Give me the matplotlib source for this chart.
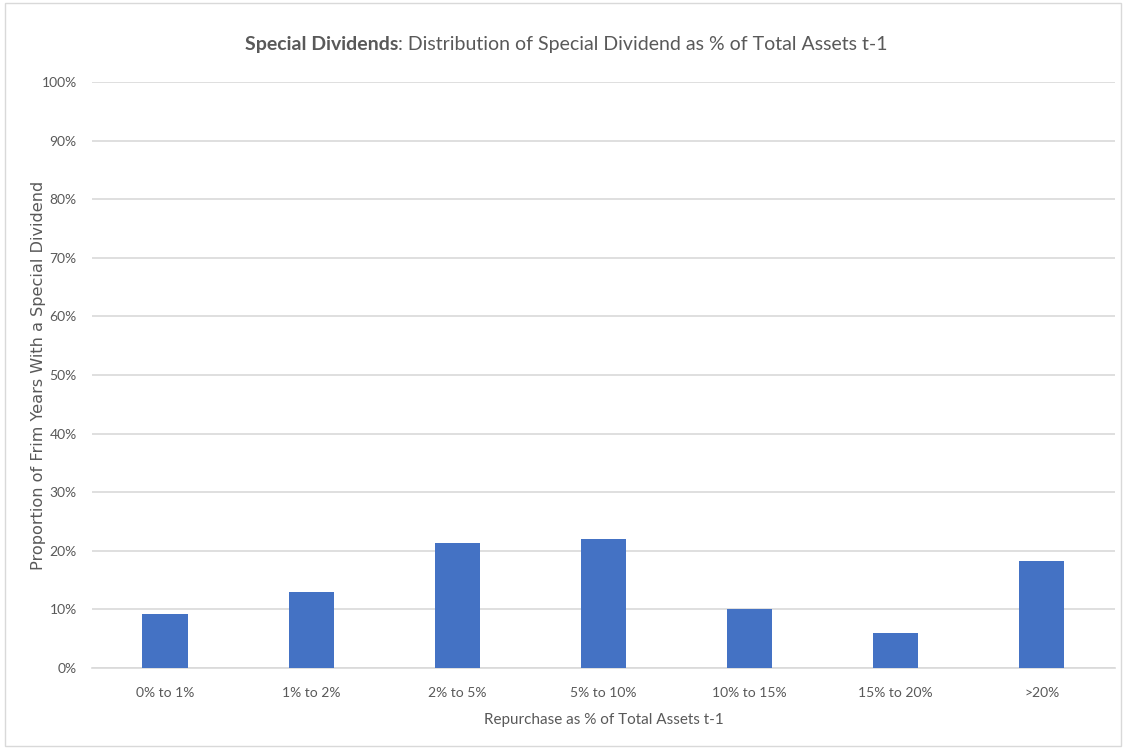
import matplotlib
matplotlib.use("Agg")
import matplotlib.pyplot as plt
from matplotlib.ticker import PercentFormatter
from matplotlib.patches import Rectangle

categories = ["0% to 1%", "1% to 2%", "2% to 5%", "5% to 10%",
              "10% to 15%", "15% to 20%", ">20%"]
share = [0.092, 0.130, 0.213, 0.220, 0.100, 0.059, 0.183]

plt.rcParams['font.family'] = ['Lato', 'DejaVu Sans']
text_color = "#595959"

fig = plt.figure(figsize=(11.25, 7.49), dpi=100)
ax = fig.add_axes([0.0818, 0.1081, 0.9092, 0.7824])

ax.bar(range(len(categories)), share, width=0.31, color="#4472C4", zorder=3)
ax.set_xlim(-0.5, len(categories) - 0.5)
ax.set_ylim(0, 1.0)
ax.set_yticks([i / 10 for i in range(11)])
ax.yaxis.set_major_formatter(PercentFormatter(1.0, decimals=0))
ax.set_xticks(range(len(categories)))
ax.set_xticklabels(categories)

ax.grid(axis="y", color="#D9D9D9", linewidth=1.2, zorder=0)
for side in ["top", "right", "left"]:
    ax.spines[side].set_visible(False)
ax.spines["bottom"].set_color("#D9D9D9")
ax.spines["bottom"].set_linewidth(1.2)
ax.tick_params(length=0, colors=text_color, labelsize=10)
ax.tick_params(axis="x", pad=14)
ax.tick_params(axis="y", pad=11)

ax.set_xlabel("Repurchase as % of Total Assets t-1", color=text_color, fontsize=11, labelpad=10)
ax.set_ylabel("Proportion of Frim Years With a Special Dividend", color=text_color,
              fontsize=11.6, family=["DejaVu Sans"])
ax.yaxis.set_label_coords(-0.045, 0.5)

# title: bold lead-in followed by regular text
renderer = fig.canvas.get_renderer()
t1 = fig.text(0, 0, "Special Dividends", fontsize=14, fontweight="bold", color=text_color)
t2 = fig.text(0, 0, ": Distribution of Special Dividend as % of Total Assets t-1",
              fontsize=14, color=text_color)
w1 = t1.get_window_extent(renderer).width / fig.bbox.width
w2 = t2.get_window_extent(renderer).width / fig.bbox.width
x0 = 0.5035 - (w1 + w2) / 2
ty = 1 - 50 / 749
t1.set_position((x0, ty))
t2.set_position((x0 + w1, ty))

fig.patches.append(Rectangle((0.004, 0.004), 0.992, 0.992, transform=fig.transFigure,
                             fill=False, edgecolor="#D9D9D9", linewidth=1))

fig.savefig("out.png", dpi=100)
